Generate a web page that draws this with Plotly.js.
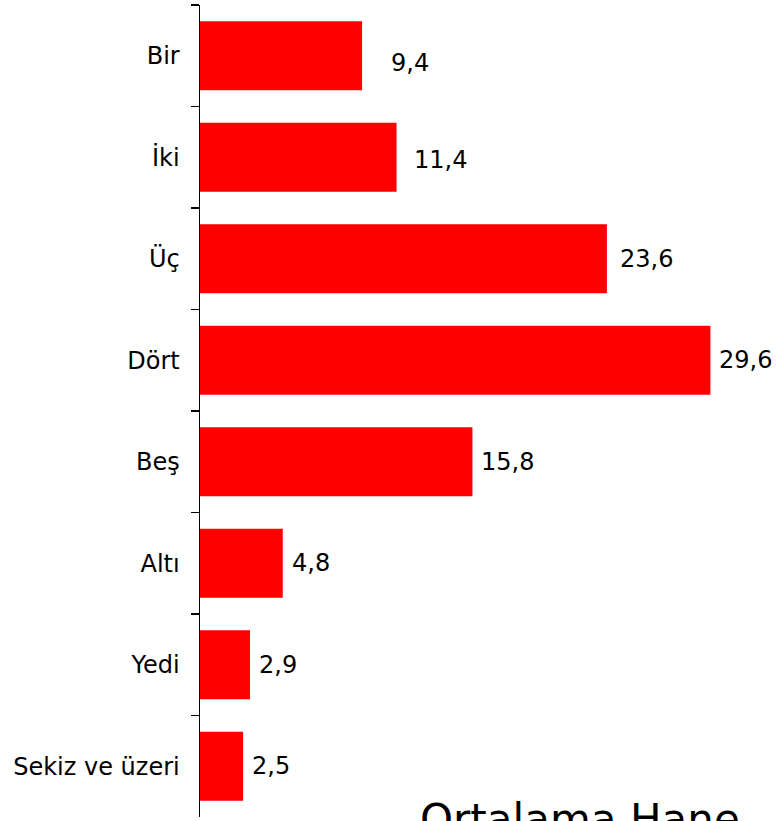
<!DOCTYPE html>
<html>
<head>
<meta charset="utf-8">
<script src="https://cdn.plot.ly/plotly-3.0.1.min.js"></script>
<style>
  html, body { margin: 0; padding: 0; background: #fff; }
  #chart { width: 778px; height: 821px; }
</style>
</head>
<body>
<div id="chart"></div>
<script>
const categories = ["Bir", "İki", "Üç", "Dört", "Beş", "Altı", "Yedi", "Sekiz ve üzeri"];
const values = [9.4, 11.4, 23.6, 29.6, 15.8, 4.8, 2.9, 2.5];
const valueLabels = ["9,4", "11,4", "23,6", "29,6", "15,8", "4,8", "2,9", "2,5"];
const chartTitle = "Ortalama Hane";

const FONT = "DejaVu Sans, Verdana, sans-serif";
// extra horizontal / vertical nudges for the hand-placed labels (px)
const labelNudge = [20, 8, 4, 0, 0, 0, 0, 0];
const labelLift = [-7, -3, 0, 0, 0, 0, 0, 0];

const trace = {
  type: "bar",
  orientation: "h",
  y: categories,
  x: values,
  marker: { color: "#FF0000", line: { width: 0 } },
  width: 0.68,
  hoverinfo: "none"
};

const annotations = categories.map((c, i) => ({
  x: values[i],
  y: c,
  xref: "x",
  yref: "y",
  text: valueLabels[i],
  showarrow: false,
  xanchor: "left",
  yanchor: "middle",
  xshift: 7 + labelNudge[i],
  yshift: labelLift[i],
  font: { family: FONT, size: 24, color: "#000" }
}));

annotations.push({
  xref: "paper",
  yref: "paper",
  x: 0.668,
  y: 0,
  xanchor: "center",
  yanchor: "top",
  yshift: 24,
  text: chartTitle,
  showarrow: false,
  font: { family: FONT, size: 42, color: "#000" }
});

const layout = {
  width: 778,
  height: 821,
  margin: { l: 200, r: 9, t: 5, b: 4, pad: 0 },
  paper_bgcolor: "#fff",
  plot_bgcolor: "#fff",
  showlegend: false,
  xaxis: {
    range: [0, 33],
    visible: false,
    showgrid: false,
    zeroline: false,
    fixedrange: true
  },
  yaxis: {
    type: "category",
    autorange: "reversed",
    showline: true,
    linecolor: "#000",
    linewidth: 1.5,
    ticks: "outside",
    tickson: "boundaries",
    ticklen: 8,
    tickwidth: 1.2,
    tickcolor: "#000",
    ticklabelstandoff: 14,
    showgrid: false,
    zeroline: false,
    tickfont: { family: FONT, size: 24, color: "#000" },
    fixedrange: true
  },
  annotations: annotations
};

Plotly.newPlot("chart", [trace], layout, { displayModeBar: false, staticPlot: true });
</script>
</body>
</html>
